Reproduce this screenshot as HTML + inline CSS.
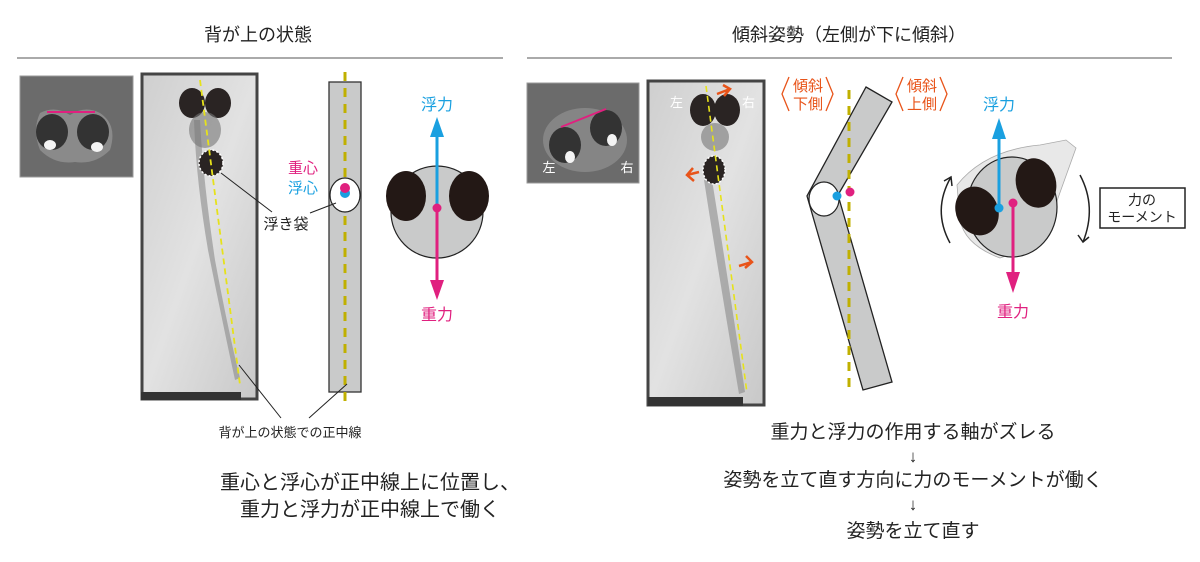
<!DOCTYPE html>
<html><head><meta charset="utf-8"><style>
html,body{margin:0;padding:0;background:#fff;}
svg{display:block;font-family:"Liberation Sans","Noto Sans CJK JP",sans-serif;}
</style></head><body>
<svg width="1200" height="562" viewBox="0 0 1200 562" xmlns="http://www.w3.org/2000/svg">
<defs>
<linearGradient id="ph" x1="0" y1="0" x2="1" y2="1">
<stop offset="0" stop-color="#cfcfcf"/><stop offset="0.5" stop-color="#e2e2e2"/><stop offset="1" stop-color="#c8c8c8"/>
</linearGradient>
</defs>
<!-- titles -->
<text x="258" y="41" font-size="18" text-anchor="middle" fill="#222">背が上の状態</text>
<line x1="17" y1="58" x2="503" y2="58" stroke="#777" stroke-width="1.2"/>
<text x="849" y="41" font-size="18" text-anchor="middle" fill="#222">傾斜姿勢（左側が下に傾斜）</text>
<line x1="527" y1="58" x2="1172" y2="58" stroke="#777" stroke-width="1.2"/>

<!-- left thumbnail -->
<rect x="20" y="76" width="113" height="101" fill="#6b6b6b" stroke="#999"/>
<path d="M40 113 Q55 105 70 115 Q85 105 100 113 Q118 125 110 150 Q95 165 75 162 Q55 165 40 150 Q32 130 40 113Z" fill="#8a8a8a"/>
<ellipse cx="52" cy="132" rx="16" ry="18" fill="#333"/>
<ellipse cx="93" cy="132" rx="16" ry="18" fill="#333"/>
<ellipse cx="50" cy="145" rx="6" ry="5" fill="#f4f4f4"/>
<ellipse cx="97" cy="147" rx="6" ry="5" fill="#f4f4f4"/>
<line x1="47" y1="112" x2="95" y2="112" stroke="#e0207f" stroke-width="2"/>

<!-- left fish photo -->
<rect x="142" y="74" width="115" height="325" fill="url(#ph)" stroke="#444" stroke-width="3"/>
<rect x="141" y="392" width="100" height="8" fill="#333"/>
<path d="M200 120 Q203 180 215 260 Q228 330 240 378 L235 380 Q222 320 208 250 Q196 180 194 120Z" fill="#8a8a8a" opacity="0.6"/>
<ellipse cx="192" cy="103" rx="13" ry="15" fill="#2a2423"/>
<ellipse cx="218" cy="103" rx="13" ry="15" fill="#2a2423"/>
<ellipse cx="205" cy="130" rx="16" ry="18" fill="#777" opacity="0.6"/>
<ellipse cx="211" cy="163" rx="12" ry="13" fill="#2a2423" stroke="#fff" stroke-width="1.5" stroke-dasharray="2 2"/>
<line x1="200" y1="80" x2="240" y2="385" stroke="#e6e21a" stroke-width="1.8" stroke-dasharray="6 4"/>
<line x1="221" y1="173" x2="272" y2="212" stroke="#222" stroke-width="1"/>
<line x1="239" y1="365" x2="281" y2="418" stroke="#222" stroke-width="1"/>

<!-- left bar -->
<rect x="329" y="82" width="32" height="310" fill="#c9caca" stroke="#333" stroke-width="1.3"/>
<line x1="345" y1="72" x2="345" y2="402" stroke="#c0b000" stroke-width="3" stroke-dasharray="9 7"/>
<ellipse cx="345" cy="195" rx="15" ry="17" fill="#fff" stroke="#222" stroke-width="1.2"/>
<circle cx="345" cy="193" r="5" fill="#1aa0e0"/>
<circle cx="345" cy="188" r="5" fill="#e0207f"/>
<text x="303" y="173" font-size="15" text-anchor="middle" fill="#e0207f">重心</text>
<text x="303" y="193" font-size="15" text-anchor="middle" fill="#1aa0e0">浮心</text>
<text x="286" y="229" font-size="15" text-anchor="middle" fill="#222">浮き袋</text>
<line x1="310" y1="213" x2="336" y2="203" stroke="#222" stroke-width="1"/>
<line x1="347" y1="384" x2="309" y2="418" stroke="#222" stroke-width="1"/>
<text x="290" y="437" font-size="13" text-anchor="middle" fill="#222">背が上の状態での正中線</text>

<!-- left head -->
<circle cx="437" cy="212" r="46" fill="#c9caca" stroke="#222" stroke-width="1.2"/>
<ellipse cx="406" cy="196" rx="20" ry="25" fill="#231815"/>
<ellipse cx="469" cy="196" rx="20" ry="25" fill="#231815"/>
<line x1="437" y1="208" x2="437" y2="135" stroke="#1aa0e0" stroke-width="3"/>
<polygon points="437,117 430,137 444,137" fill="#1aa0e0"/>
<line x1="437" y1="208" x2="437" y2="280" stroke="#e0207f" stroke-width="3"/>
<polygon points="437,300 430,280 444,280" fill="#e0207f"/>
<circle cx="437" cy="208" r="4.5" fill="#e0207f"/>
<text x="437" y="110" font-size="16" text-anchor="middle" fill="#1aa0e0">浮力</text>
<text x="437" y="320" font-size="16" text-anchor="middle" fill="#e0207f">重力</text>

<text x="370" y="489" font-size="20" text-anchor="middle" fill="#222">重心と浮心が正中線上に位置し、</text>
<text x="370" y="516" font-size="20" text-anchor="middle" fill="#222">重力と浮力が正中線上で働く</text>

<!-- right thumbnail -->
<rect x="527" y="83" width="112" height="100" fill="#6b6b6b" stroke="#999"/>
<ellipse cx="585" cy="140" rx="42" ry="32" fill="#858585"/>
<ellipse cx="565" cy="145" rx="16" ry="18" fill="#333"/>
<ellipse cx="606" cy="128" rx="16" ry="18" fill="#333"/>
<ellipse cx="570" cy="157" rx="5" ry="6" fill="#f4f4f4"/>
<ellipse cx="612" cy="140" rx="5" ry="6" fill="#f4f4f4"/>
<line x1="561" y1="127" x2="606" y2="109" stroke="#e0207f" stroke-width="2"/>
<text x="549" y="172" font-size="13" text-anchor="middle" fill="#fff">左</text>
<text x="627" y="172" font-size="13" text-anchor="middle" fill="#fff">右</text>

<!-- right fish photo -->
<rect x="648" y="81" width="116" height="324" fill="url(#ph)" stroke="#444" stroke-width="3"/>
<rect x="648" y="397" width="95" height="9" fill="#333"/>
<path d="M712 180 Q725 260 745 392 L739 394 Q718 270 704 180Z" fill="#8a8a8a" opacity="0.6"/>
<ellipse cx="703" cy="110" rx="13" ry="16" fill="#2a2423"/>
<ellipse cx="727" cy="110" rx="13" ry="16" fill="#2a2423"/>
<ellipse cx="715" cy="137" rx="14" ry="14" fill="#777" opacity="0.6"/>
<ellipse cx="714" cy="170" rx="11" ry="14" fill="#2a2423" stroke="#fff" stroke-width="1.5" stroke-dasharray="2 2"/>
<line x1="706" y1="86" x2="747" y2="393" stroke="#e6e21a" stroke-width="1.6" stroke-dasharray="6 4"/>
<text x="670" y="107" font-size="13" fill="#fff">左</text>
<text x="742" y="107" font-size="13" fill="#fff">右</text>
<g stroke="#e8541a" stroke-width="2.5" fill="none">
<path d="M717 94 L730 89 M723 85 L730 89 L724 96"/>
<path d="M699 172 L687 175 M693 168 L687 175 L694 181"/>
<path d="M739 266 L752 262 M746 256 L752 262 L745 268"/>
</g>

<!-- bent bar labels -->
<g stroke="#e8541a" stroke-width="1.3" fill="none">
<polyline points="789,77 782,94 789,111"/>
<polyline points="826,77 833,94 826,111"/>
<polyline points="903,77 896,94 903,111"/>
<polyline points="940,77 947,94 940,111"/>
</g>
<text x="808" y="91" font-size="15" text-anchor="middle" fill="#e8541a">傾斜</text>
<text x="808" y="109" font-size="15" text-anchor="middle" fill="#e8541a">下側</text>
<text x="922" y="91" font-size="15" text-anchor="middle" fill="#e8541a">傾斜</text>
<text x="922" y="109" font-size="15" text-anchor="middle" fill="#e8541a">上側</text>
<polygon points="866,87 892,102 838,195 892,382 863,390 807,196" fill="#c9caca" stroke="#222" stroke-width="1.3"/>
<line x1="849" y1="90" x2="849" y2="394" stroke="#c0b000" stroke-width="3" stroke-dasharray="9 7"/>
<ellipse cx="824" cy="199" rx="15" ry="17" fill="#fff" stroke="#222" stroke-width="1.2"/>
<circle cx="837" cy="196" r="4.5" fill="#1aa0e0"/>
<circle cx="850" cy="192" r="4.5" fill="#e0207f"/>

<!-- right head -->
<path d="M957 185 Q985 150 1040 145 L1066 140 L1076 148 L1053 212 Q1040 245 1000 258 Q965 245 960 220Z" fill="#e8e8e8" stroke="#aaa" stroke-width="0.8"/>
<ellipse cx="1012" cy="207" rx="45" ry="50" fill="#c9caca" stroke="#222" stroke-width="1.2"/>
<ellipse cx="977" cy="211" rx="21" ry="25" transform="rotate(-25 977 211)" fill="#231815"/>
<ellipse cx="1036" cy="183" rx="20" ry="25" transform="rotate(-15 1036 183)" fill="#231815"/>
<line x1="999" y1="208" x2="999" y2="138" stroke="#1aa0e0" stroke-width="3"/>
<polygon points="999,118 992,139 1006,139" fill="#1aa0e0"/>
<circle cx="999" cy="208" r="4.5" fill="#1aa0e0"/>
<line x1="1013" y1="203" x2="1013" y2="272" stroke="#e0207f" stroke-width="3"/>
<polygon points="1013,293 1006,272 1020,272" fill="#e0207f"/>
<circle cx="1013" cy="203" r="4.5" fill="#e0207f"/>
<text x="999" y="110" font-size="16" text-anchor="middle" fill="#1aa0e0">浮力</text>
<text x="1013" y="317" font-size="16" text-anchor="middle" fill="#e0207f">重力</text>
<g stroke="#222" stroke-width="1.5" fill="none">
<path d="M950 243 Q932 210 951 177"/>
<path d="M944 181 L951 177 L952 186"/>
<path d="M1080 175 Q1097 207 1083 242"/>
<path d="M1078 235 L1083 242 L1089 237"/>
</g>
<rect x="1100" y="188" width="85" height="40" fill="#fff" stroke="#222" stroke-width="1.5"/>
<text x="1142" y="205" font-size="14" text-anchor="middle" fill="#222">力の</text>
<text x="1142" y="222" font-size="14" text-anchor="middle" fill="#222">モーメント</text>

<!-- right text -->
<text x="913" y="438" font-size="19" text-anchor="middle" fill="#222">重力と浮力の作用する軸がズレる</text>
<text x="913" y="462" font-size="17" text-anchor="middle" fill="#222">↓</text>
<text x="913" y="486" font-size="19" text-anchor="middle" fill="#222">姿勢を立て直す方向に力のモーメントが働く</text>
<text x="913" y="510" font-size="17" text-anchor="middle" fill="#222">↓</text>
<text x="913" y="537" font-size="19" text-anchor="middle" fill="#222">姿勢を立て直す</text>
</svg>
</body></html>
